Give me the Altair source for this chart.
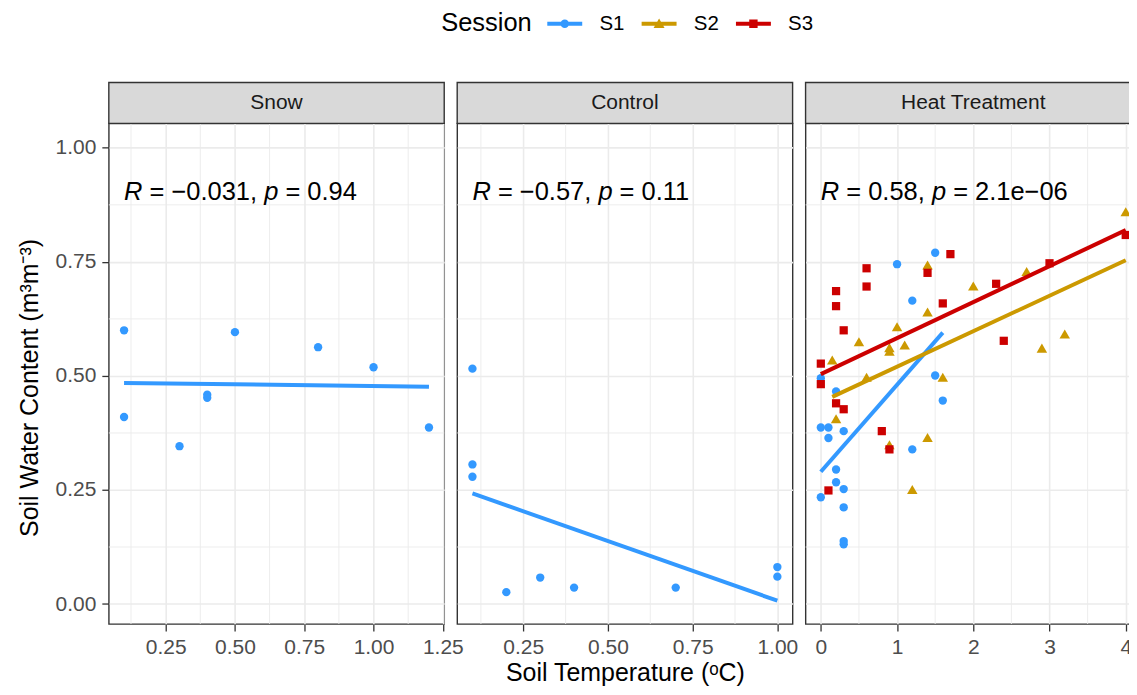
import altair as alt
import pandas as pd

FONT = "Liberation Sans"
GRID = "#EBEBEB"

sessions = ["S1", "S2", "S3"]
session_colors = ["#3399FF", "#CC9900", "#CC0000"]
panel_names = ["Snow", "Control", "Heat Treatment"]

# Snow (S1 only)
snow_x = [0.1, 0.5, 0.8, 1.0, 0.1, 0.4, 0.4, 0.3, 1.2]
snow_y = [0.600, 0.596, 0.563, 0.519, 0.410, 0.459, 0.452, 0.346, 0.387]

# Control (S1 only)
control_x = [0.1, 0.1, 0.1, 0.2, 0.3, 0.4, 0.7, 1.0, 1.0]
control_y = [0.516, 0.306, 0.279, 0.026, 0.058, 0.036, 0.036, 0.081, 0.060]

# Heat Treatment
heat_s1_x = [1.5, 1.0, 1.2, 1.5, 0.0, 0.2, 1.6, 0.0, 0.1, 0.1, 0.3, 1.2, 0.2, 0.2, 0.3, 0.0, 0.3, 0.3, 0.3]
heat_s1_y = [0.770, 0.745, 0.665, 0.501, 0.495, 0.466, 0.446, 0.387, 0.387, 0.364, 0.379, 0.339, 0.295,
             0.267, 0.252, 0.234, 0.212, 0.138, 0.131]
heat_s2_x = [4.0, 1.4, 2.7, 2.0, 1.4, 1.0, 0.5, 1.1, 0.9, 0.9, 3.2, 2.9, 0.15, 0.6, 1.6, 0.2, 0.9, 1.4, 1.2]
heat_s2_y = [0.860, 0.743, 0.729, 0.697, 0.640, 0.608, 0.575, 0.568, 0.562, 0.554, 0.592, 0.561, 0.535,
             0.497, 0.497, 0.406, 0.349, 0.365, 0.251]
heat_s3_x = [0.0, 0.0, 0.2, 0.2, 0.3, 0.6, 0.6, 1.4, 1.7, 1.6, 2.3, 3.0, 2.4, 4.0, 0.2, 0.3, 0.8, 0.9, 0.1]
heat_s3_y = [0.527, 0.482, 0.686, 0.653, 0.600, 0.736, 0.696, 0.726, 0.767, 0.659, 0.702, 0.747, 0.577,
             0.809, 0.440, 0.427, 0.379, 0.339, 0.249]

# correlation annotations
r_text = ["\u22120.031", "\u22120.57", "0.58"]
p_text = ["0.94", "0.11", "2.1e\u221206"]
ann_x = [0.1, 0.1, 0.0]
ann_y = 0.886

y_ticks = [0.0, 0.25, 0.5, 0.75, 1.0]
x_ticks = [[0.25, 0.5, 0.75, 1.0, 1.25], [0.25, 0.5, 0.75, 1.0], [0, 1, 2, 3, 4]]
x_formats = [".2f", ".2f", "d"]
x_domains = [[0.045, 1.255], [0.055, 1.045], [-0.2, 4.2]]
y_domain = [-0.0438, 1.0536]
panel_widths = [336, 336, 336]
PLOT_H = 501.5
STRIP_H = 41
ANN_FS = 25.5

point_style = {"S1": ("circle", 70), "S2": ("triangle-up", 110), "S3": ("square", 68)}

line_path = "M-1.75,-0.19H1.75V0.19H-1.75Z"
legend_paths = [
    line_path + "M0.43,0A0.43,0.43,0,1,1,-0.43,0A0.43,0.43,0,1,1,0.43,0Z",
    line_path + "M0,-0.52L0.55,0.42L-0.55,0.42Z",
    line_path + "M-0.42,-0.42H0.42V0.42H-0.42Z",
]

ARIAL = {" ": 278, "=": 584, "\u2212": 584, ".": 278, ",": 278, "e": 556, "R": 722, "p": 556}


def text_width(s, fs):
    return sum(ARIAL.get(c, 556) for c in s) * fs / 1000.0


def minor(ticks, dom):
    step = ticks[1] - ticks[0]
    cands = [ticks[0] - step / 2] + [(a + b) / 2 for a, b in zip(ticks, ticks[1:])] + [ticks[-1] + step / 2]
    return [c for c in cands if dom[0] < c < dom[1]]


def df_for(xs, ys, s):
    return pd.DataFrame({"x": xs, "y": ys, "Session": s})


panel_data = [
    df_for(snow_x, snow_y, "S1"),
    df_for(control_x, control_y, "S1"),
    pd.concat([df_for(heat_s1_x, heat_s1_y, "S1"), df_for(heat_s2_x, heat_s2_y, "S2"),
               df_for(heat_s3_x, heat_s3_y, "S3")], ignore_index=True),
]

color_scale = alt.Scale(domain=sessions, range=session_colors)

legend_kw = dict(
    title="Session", orient="none", legendX=333, legendY=-110.2, direction="horizontal",
    titleOrient="left", titleFontSize=25.5, titleFontWeight="normal", titleColor="black", titleFont=FONT,
    titleBaseline="middle", titlePadding=22.5, labelFontSize=20.5, labelColor="black", labelFont=FONT,
    symbolSize=400, symbolStrokeWidth=0, labelOffset=24.5, columnPadding=15.5,
)
color_legend = alt.Legend(**legend_kw)


def make_panel(i):
    name = panel_names[i]
    w = panel_widths[i]
    xdom = x_domains[i]
    df = panel_data[i]
    xs = alt.Scale(domain=xdom, nice=False, zero=False)
    ys = alt.Scale(domain=y_domain, nice=False, zero=False)
    xaxis = alt.Axis(values=x_ticks[i], format=x_formats[i], grid=True, labelFlush=False,
                     title=("Soil Temperature (\u1d52C)" if i == 1 else None), titlePadding=3)
    if i == 0:
        yaxis = alt.Axis(values=y_ticks, format=".2f", grid=True, title="Soil Water Content (m\u00b3m\u207b\u00b3)",
                         titlePadding=13, titleY=264.5)
    else:
        yaxis = alt.Axis(values=y_ticks, grid=True, labels=False, ticks=False, title=None)
    X = alt.X("x:Q", scale=xs, axis=xaxis)
    Y = alt.Y("y:Q", scale=ys, axis=yaxis)
    C = alt.Color("Session:N", scale=color_scale, legend=color_legend)

    layers = [
        alt.Chart(pd.DataFrame({"x": minor(x_ticks[i], xdom)})).mark_rule(color=GRID, strokeWidth=0.9).encode(x=X),
        alt.Chart(pd.DataFrame({"y": minor(y_ticks, y_domain)})).mark_rule(color=GRID, strokeWidth=0.9).encode(y=Y),
    ]
    base = alt.Chart(df)
    present = [s for s in sessions if s in set(df["Session"])]
    for s in present:
        shp, sz = point_style[s]
        layers.append(base.transform_filter(alt.datum.Session == s)
                      .mark_point(shape=shp, filled=True, size=sz, opacity=1, strokeWidth=0)
                      .encode(x=X, y=Y, color=C))
    layers.append(base.transform_regression("x", "y", groupby=["Session"])
                  .mark_line(strokeWidth=4).encode(x=X, y=Y, color=C))

    ann = pd.DataFrame({"x": [ann_x[i]], "y": [ann_y]})
    pieces = [("R", "italic", ""), ("= " + r_text[i] + ",", "normal", "R "),
              ("p", "italic", "R = " + r_text[i] + ", "), ("= " + p_text[i], "normal", "R = " + r_text[i] + ", p ")]
    for txt, style, prefix in pieces:
        layers.append(alt.Chart(ann).mark_text(text=txt, align="left", baseline="alphabetic", fontSize=ANN_FS,
                                               fontStyle=style, font=FONT, color="black",
                                               dx=text_width(prefix, ANN_FS))
                      .encode(x=X, y=Y))

    # facet strip above the panel
    strip_df = pd.DataFrame({"panel": [name]})
    layers.append(alt.Chart(strip_df).mark_rect(fill="#D9D9D9", stroke="#333333", strokeWidth=1.4)
                  .encode(x=alt.value(0), x2=alt.value("width"), y=alt.value(-STRIP_H), y2=alt.value(0)))
    layers.append(alt.Chart(strip_df).mark_text(fontSize=21, color="#1A1A1A", font=FONT,
                                                baseline="middle", align="center")
                  .encode(text="panel:N", x=alt.value(w / 2), y=alt.value(-STRIP_H / 2)))

    if i == 0:
        layers.append(alt.Chart(pd.DataFrame({"Session": sessions})).transform_filter("false")
                      .mark_point(filled=True, opacity=1)
                      .encode(color=C,
                              shape=alt.Shape("Session:N", scale=alt.Scale(domain=sessions, range=legend_paths),
                                              legend=alt.Legend(**legend_kw))))

    return alt.layer(*layers).properties(
        width=w, height=PLOT_H,
        view=alt.ViewBackground(stroke="#333333", strokeWidth=1.4))


chart = alt.hconcat(*[make_panel(i) for i in range(3)], spacing=13, bounds="flush").resolve_scale(
    x="independent", y="independent"
).properties(
    padding={"left": 8, "top": 4, "right": -14, "bottom": -1}
).configure(font=FONT, background="white").configure_view(stroke=None).configure_axis(
    labelFont=FONT, titleFont=FONT, labelFontSize=21, titleFontSize=25, labelColor="#4D4D4D",
    titleColor="black", titleFontWeight="normal", tickColor="#333333", tickWidth=1.3, tickSize=7,
    gridColor=GRID, gridWidth=1.6, domain=False
).configure_axisX(labelPadding=6).configure_axisY(labelPadding=6)

chart.save("out.html", embed_options={"renderer": "svg", "actions": False})
